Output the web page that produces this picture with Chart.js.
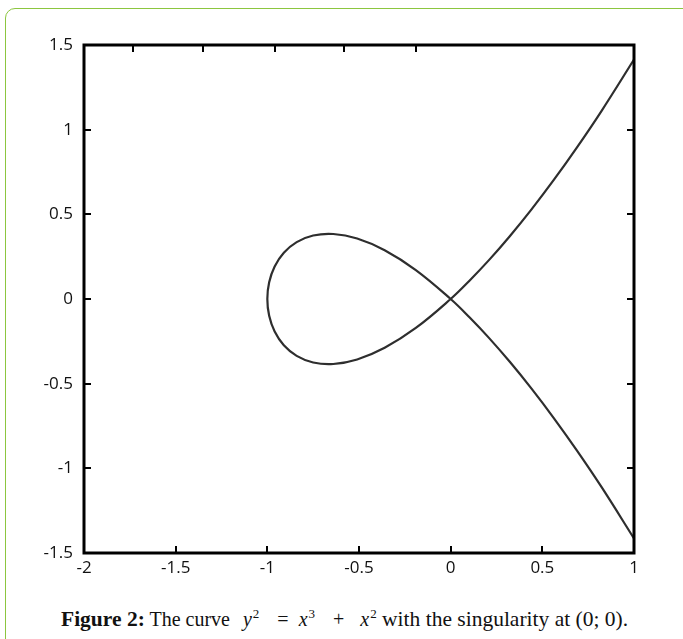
<!DOCTYPE html>
<html>
<head>
<meta charset="utf-8">
<script src="https://cdn.jsdelivr.net/npm/chart.js@4/dist/chart.umd.min.js"></script>
<style>
 html,body{margin:0;padding:0;background:#fff;overflow:hidden;}
 #page{position:relative;width:683px;height:639px;overflow:hidden;}
 #box{position:absolute;left:5px;top:8px;width:720px;height:700px;border:1.5px solid #8cc63f;border-radius:10px;box-sizing:border-box;}
 #plot{position:absolute;left:0;top:0;}
 #caption{position:absolute;left:61px;top:608px;
  font-family:"Liberation Serif","Times New Roman",serif;font-size:20px;line-height:22px;color:#111;white-space:nowrap;}
 #caption b{font-size:21.5px;}
 #caption i{font-style:italic;}
 #caption sup{font-size:13px;vertical-align:8px;line-height:0;margin-left:1px;}
 #caption .eq{display:inline-block;}
 #caption .tail{font-size:21.5px;}
</style>
</head>
<body>
<div id="page">
 <div id="box"></div>
 <canvas id="plot" width="683" height="600"></canvas>
 <div id="caption"><b>Figure 2:</b> The curve<span class="eq" style="margin-left:13px"><i>y</i><sup>2</sup></span><span class="eq" style="margin-left:18px">=</span><span class="eq" style="margin-left:10px"><i>x</i><sup>3</sup></span><span class="eq" style="margin-left:18px">+</span><span class="eq" style="margin-left:16px"><i>x</i><sup>2</sup></span><span class="tail"> with the singularity at (0; 0).</span></div>
</div>
<script>
// points along the curve, traced from the top right end, round the loop, to the bottom right end
const curveX = [1, 0.8225, 0.69, 0.5625, 0.44, 0.3225, 0.21, 0.1025, 0,
  -0.19, -0.36, -0.51, -0.64, -0.75, -0.84, -0.91, -0.96, -0.99, -1,
  -0.99, -0.96, -0.91, -0.84, -0.75, -0.64, -0.51, -0.36, -0.19,
  0, 0.1025, 0.21, 0.3225, 0.44, 0.5625, 0.69, 0.8225, 1];
const curveY = [1.414, 1.110, 0.897, 0.703, 0.528, 0.371, 0.231, 0.108, 0,
  -0.171, -0.288, -0.357, -0.384, -0.375, -0.336, -0.273, -0.192, -0.099, 0,
  0.099, 0.192, 0.273, 0.336, 0.375, 0.384, 0.357, 0.288, 0.171,
  0, -0.108, -0.231, -0.371, -0.528, -0.703, -0.897, -1.110, -1.414];

const xRange = [-2, 1];
const yRange = [-1.5, 1.5];
const tickStep = 0.5;
// the top edge carries its own, unlabelled tick marks
const topTickX = [-1.731, -1.353, -0.958, -0.580, -0.189];

const points = curveX.map((x, i) => ({ x: x, y: curveY[i] }));

// closed black frame with short inward tick marks
const framePlugin = {
 id: 'frame',
 afterDatasetsDraw(chart) {
  const ctx = chart.ctx, a = chart.chartArea;
  const sx = chart.scales.x, sy = chart.scales.y;
  const len = 7;
  ctx.save();
  ctx.strokeStyle = '#000';
  ctx.lineWidth = 2;
  ctx.beginPath();
  sx.ticks.forEach(t => {
   if (t.value <= xRange[0] || t.value >= xRange[1]) return;
   const px = Math.round(sx.getPixelForValue(t.value));
   ctx.moveTo(px, a.bottom); ctx.lineTo(px, a.bottom - len);
  });
  topTickX.forEach(v => {
   const px = Math.round(sx.getPixelForValue(v));
   ctx.moveTo(px, a.top); ctx.lineTo(px, a.top + len);
  });
  sy.ticks.forEach(t => {
   if (t.value <= yRange[0] || t.value >= yRange[1]) return;
   const py = Math.round(sy.getPixelForValue(t.value));
   ctx.moveTo(a.left, py); ctx.lineTo(a.left + len, py);
   ctx.moveTo(a.right, py); ctx.lineTo(a.right - len, py);
  });
  ctx.stroke();
  ctx.lineWidth = 3;
  ctx.strokeRect(a.left, a.top, a.right - a.left, a.bottom - a.top);
  ctx.restore();
 }
};

const tickFont = { family: '"Open Sans", "DejaVu Sans", sans-serif', size: 17 };
const plainLabel = v => String(Number(v));

new Chart(document.getElementById('plot'), {
 type: 'scatter',
 data: {
  datasets: [{
   data: points,
   showLine: true,
   borderColor: '#2e2e2e',
   borderWidth: 2.2,
   pointRadius: 0,
   tension: 0.4,
   fill: false
  }]
 },
 options: {
  responsive: false,
  animation: false,
  events: [],
  layout: { padding: { left: 0, top: 45, right: 49, bottom: 0 } },
  plugins: { legend: { display: false }, tooltip: { enabled: false } },
  scales: {
   x: {
    type: 'linear', min: xRange[0], max: xRange[1],
    grid: { display: false, drawTicks: false },
    border: { display: false },
    ticks: { stepSize: tickStep, font: tickFont, color: '#111', padding: 5, maxRotation: 0, callback: plainLabel },
    afterFit(scale) { scale.height = 47; }
   },
   y: {
    type: 'linear', min: yRange[0], max: yRange[1],
    grid: { display: false, drawTicks: false },
    border: { display: false },
    ticks: { stepSize: tickStep, font: tickFont, color: '#111', padding: 11, callback: plainLabel },
    afterFit(scale) { scale.width = 84; }
   }
  }
 },
 plugins: [framePlugin]
});
</script>
</body>
</html>
